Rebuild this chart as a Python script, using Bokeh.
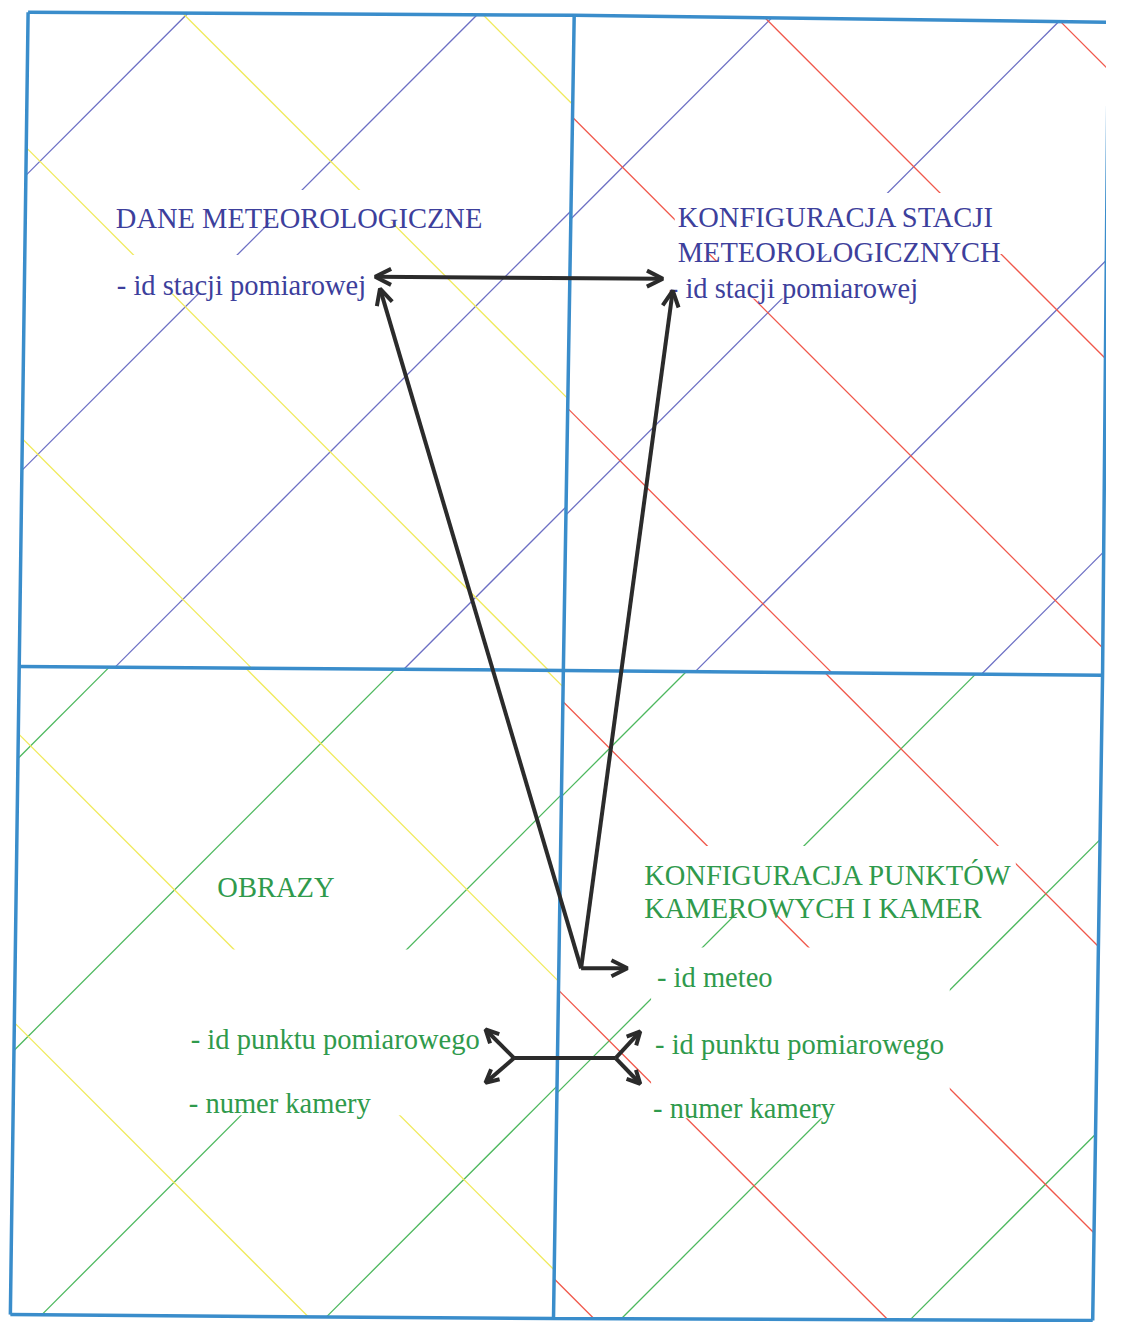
import numpy as np
from bokeh.plotting import figure
from bokeh.models import Range1d, ColumnDataSource, Arrow, OpenHead
from bokeh.core.properties import value
from bokeh.embed import file_html
from bokeh.resources import INLINE

# ---------------- data ----------------
# frame nodes (scan is slightly skewed): left, middle, right for each horizontal
frame_top_x = [28, 582, 1124]
frame_top_y = [12, 15, 22]
frame_mid_x = [19, 571, 1118]
frame_mid_y = [675, 679, 684]
frame_bot_x = [10, 561, 1108]
frame_bot_y = [1332, 1336, 1338]

quadrants = ["TL", "TR", "BL", "BR"]
# hatch offsets: "/" lines x+y=c, "\" lines x-y=d
slash_offsets = {"TL": [203, 498, 792, 1087], "TR": [800, 1095, 1385, 1678],
                 "BL": [786, 1078, 1374, 1665], "BR": [1376, 1672, 1966, 2260]}
back_offsets = {"TL": [475, 172, -123, -422], "TR": [1054, 758, 462, 162],
                "BL": [-125, -428, -725, -1022], "BR": [155, -140, -437, -734]}

BLUE_L, YELLOW_L, RED_L, GREEN_L = "#6c6fc4", "#f0ea5c", "#f0574a", "#4db85e"
slash_colors = {"TL": BLUE_L, "TR": BLUE_L, "BL": GREEN_L, "BR": GREEN_L}
back_colors = {"TL": YELLOW_L, "TR": RED_L, "BL": YELLOW_L, "BR": RED_L}

# white text boxes that interrupt the hatching
box_left = [112, 112, 684, 676, 650, 660, 185]
box_right = [495, 378, 1020, 935, 1030, 963, 495]
box_top = [192, 258, 195, 265, 857, 960, 962]
box_bottom = [225, 297, 257, 302, 925, 1133, 1130]

BLUE_T, GREEN_T = "#3d3f9c", "#2f9a4c"
serif_text = ["DANE METEOROLOGICZNE", "- id stacji pomiarowej",
              "KONFIGURACJA STACJI", "METEOROLOGICZNYCH", "- id stacji pomiarowej",
              "KONFIGURACJA PUNKTÓW", "KAMEROWYCH I KAMER", "- id meteo",
              "- id punktu pomiarowego", "- numer kamery",
              "- id punktu pomiarowego", "- numer kamery", "OBRAZY"]
serif_x = [117, 118, 687, 687, 678, 653, 653, 666, 664, 662, 193, 191, 220]
serif_y = [221, 289, 220, 255, 292, 887, 920, 990, 1058, 1123, 1053, 1118, 899]
serif_color = [BLUE_T] * 5 + [GREEN_T] * 8

# arrows (start -> tip)
arr_x0 = [589, 589, 589]
arr_y0 = [981, 981, 981]
arr_x1 = [385, 682, 636]
arr_y1 = [292, 294, 981]
fork_x0 = [521, 521, 624, 624]
fork_y0 = [1072, 1072, 1072, 1072]
fork_x1 = [492, 492, 649, 649]
fork_y1 = [1043, 1097, 1045, 1098]
dbl_x0, dbl_y0, dbl_x1, dbl_y1 = [380], [280], [672], [282]
bar_x = [521, 624]
bar_y = [1072, 1072]

# ---------------- geometry helpers ----------------
def quad_poly(q):
    t = list(zip(frame_top_x, frame_top_y))
    m = list(zip(frame_mid_x, frame_mid_y))
    b = list(zip(frame_bot_x, frame_bot_y))
    return {"TL": [t[0], t[1], m[1], m[0]], "TR": [t[1], t[2], m[2], m[1]],
            "BL": [m[0], m[1], b[1], b[0]], "BR": [m[1], m[2], b[2], b[1]]}[q]


def clip(poly, a, b, c):
    pts = []
    n = len(poly)
    for i in range(n):
        x1, y1 = poly[i]
        x2, y2 = poly[(i + 1) % n]
        f1 = a * x1 + b * y1 - c
        f2 = a * x2 + b * y2 - c
        if (f1 <= 0 < f2) or (f2 <= 0 < f1):
            t = f1 / (f1 - f2)
            pts.append((x1 + t * (x2 - x1), y1 + t * (y2 - y1)))
    return pts[:2] if len(pts) >= 2 else None


hx, hy, hc = [], [], []
for q in quadrants:
    poly = quad_poly(q)
    for c in slash_offsets[q]:
        s = clip(poly, 1, 1, c)
        if s:
            hx.append([s[0][0], s[1][0]]); hy.append([s[0][1], s[1][1]]); hc.append(slash_colors[q])
    for d in back_offsets[q]:
        s = clip(poly, 1, -1, d)
        if s:
            hx.append([s[0][0], s[1][0]]); hy.append([s[0][1], s[1][1]]); hc.append(back_colors[q])

# ---------------- figure ----------------
p = figure(width=1106, height=1322, x_range=Range1d(0, 1122), y_range=Range1d(1340, 0),
           x_axis_type=None, y_axis_type=None, toolbar_location=None,
           output_backend="svg", min_border=0)
p.grid.visible = False
p.outline_line_color = None
p.background_fill_color = "white"
p.border_fill_color = "white"

p.multi_line(xs=hx, ys=hy, line_color=hc, line_width=1.3)

p.quad(left=box_left, right=box_right, top=box_top, bottom=box_bottom,
       fill_color="white", line_color=None)

# frame
FRAME = "#3a8dcb"
fx = [frame_top_x, frame_mid_x, frame_bot_x,
      [frame_top_x[0], frame_mid_x[0], frame_bot_x[0]],
      [frame_top_x[1], frame_mid_x[1], frame_bot_x[1]],
      [frame_top_x[2], frame_mid_x[2], frame_bot_x[2]]]
fy = [frame_top_y, frame_mid_y, frame_bot_y,
      [frame_top_y[0], frame_mid_y[0], frame_bot_y[0]],
      [frame_top_y[1], frame_mid_y[1], frame_bot_y[1]],
      [frame_top_y[2], frame_mid_y[2], frame_bot_y[2]]]
p.multi_line(xs=fx, ys=fy, line_color=FRAME, line_width=3.5)

# texts
p.text(x=serif_x, y=serif_y, text=serif_text, text_color=serif_color,
       text_font=value("Liberation Serif"), text_font_size="28.5px",
       text_align="left", text_baseline="alphabetic")

# arrows
ARR = "#2b2b2b"
p.line(x=bar_x, y=bar_y, line_color=ARR, line_width=4)
p.add_layout(Arrow(end=OpenHead(size=16, line_width=4, line_color=ARR),
                   source=ColumnDataSource(dict(x0=arr_x0, y0=arr_y0, x1=arr_x1, y1=arr_y1)),
                   x_start="x0", y_start="y0", x_end="x1", y_end="y1",
                   line_color=ARR, line_width=4))
p.add_layout(Arrow(end=OpenHead(size=13, line_width=4, line_color=ARR),
                   source=ColumnDataSource(dict(x0=fork_x0, y0=fork_y0, x1=fork_x1, y1=fork_y1)),
                   x_start="x0", y_start="y0", x_end="x1", y_end="y1",
                   line_color=ARR, line_width=4))
p.add_layout(Arrow(start=OpenHead(size=16, line_width=4, line_color=ARR),
                   end=OpenHead(size=16, line_width=4, line_color=ARR),
                   source=ColumnDataSource(dict(x0=dbl_x0, y0=dbl_y0, x1=dbl_x1, y1=dbl_y1)),
                   x_start="x0", y_start="y0", x_end="x1", y_end="y1",
                   line_color=ARR, line_width=4))

open("out.html", "w").write(file_html(p, INLINE))
